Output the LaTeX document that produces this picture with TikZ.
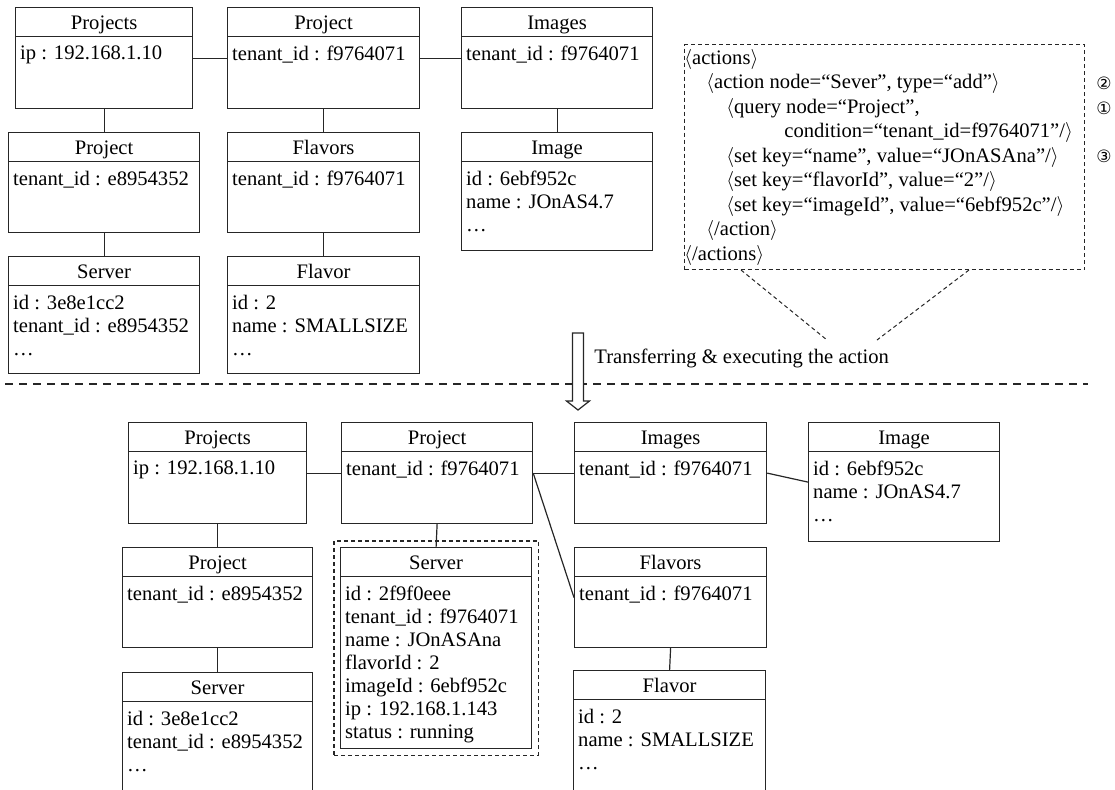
\documentclass[tikz,border=0pt]{standalone}
\usepackage{fontspec}
\setmainfont{Liberation Serif}
\newfontfamily\circfont{DejaVu Sans}
\usetikzlibrary{fit}

\newcommand{\entfont}{\fontsize{10.3}{11.5}\selectfont}

% one class box: [text options]{name}{x}{y}{width}{height}{title}{fields}
\newcommand{\entbox}[8][]{%
  \node[entity,anchor=north west,minimum width=#5*0.5pt,minimum height=#6*0.5pt] (#2) at (#3,#4) {};
  \draw[link] ([yshift=-14.75pt]#2.north west) -- ([yshift=-14.75pt]#2.north east);
  \node[entname,#1] (#2-t) at ([yshift=-11.3pt]#2.north) {#7};
  \node[entbody,#1] (#2-b) at ([yshift=-14.75pt]#2.north west) {#8};
}

\begin{document}
\begin{tikzpicture}[
  x=0.5pt,y=-0.5pt,
  entity/.style={draw=black!85,line width=0.6pt,inner sep=0pt},
  entname/.style={anchor=base,inner sep=0pt,font=\entfont},
  entbody/.style={anchor=north west,align=left,inner xsep=2.4pt,inner ysep=4.4pt,font=\entfont},
  link/.style={draw=black!85,line width=0.6pt},
  hilite/.style={draw=black!85,line width=0.6pt,dash pattern=on 2pt off 1.5pt,inner sep=3pt},
  dashbox/.style={draw=black!85,line width=0.6pt,dash pattern=on 2pt off 1.5pt,inner sep=0pt},
  callout/.style={black!85,line width=0.5pt,dash pattern=on 2pt off 1.5pt},
  sepline/.style={black!85,line width=0.7pt,dash pattern=on 4pt off 3pt},
  circnum/.style={inner sep=0pt,font=\circfont\fontsize{8.5}{10}\selectfont}
]
  \useasboundingbox (0,0) rectangle (1115,789);
  \clip (0,0) rectangle (1115,789);

  % before
  \entbox{prjs}{15}{7}{177}{101}{Projects}{ip : 192.168.1.10}
  \entbox{prj}{227}{7}{192}{101}{Project}{tenant\_id : f9764071}
  \entbox{imgs}{461}{7}{191}{101}{Images}{tenant\_id : f9764071}
  \entbox{prjE}{8}{132}{191}{100}{Project}{tenant\_id : e8954352}
  \entbox{flvs}{227}{132}{192}{100}{Flavors}{tenant\_id : f9764071}
  \entbox{img}{461}{132}{191}{118}{Image}{id : 6ebf952c\\name : JOnAS4.7\\…}
  \entbox{srvE}{8}{256}{191}{117}{Server}{id : 3e8e1cc2\\tenant\_id : e8954352\\…}
  \entbox{flv}{227}{256}{192}{117}{Flavor}{id : 2\\name : SMALLSIZE\\…}

  \draw[link] (prjs.east) -- (prj.west);
  \draw[link] (prj.east) -- (imgs.west);
  \draw[link] (prjs.south) -- (prjE.north);
  \draw[link] (prjE.south) -- (srvE.north);
  \draw[link] (prj.south) -- (flvs.north);
  \draw[link] (flvs.south) -- (flv.north);
  \draw[link] (imgs.south) -- (img.north);

  % the action
  \node[dashbox,anchor=north west,minimum width=400*0.5pt,minimum height=225*0.5pt] (acts) at (684,44) {};
  \node[anchor=north west,align=left,inner xsep=0pt,inner ysep=2.3pt,font=\fontsize{10.3}{12.25}\selectfont] (actstxt) at (684,44) {%
    $\langle$actions$\rangle$\\
    \hspace*{11pt}$\langle$action node=“Sever”, type=“add”$\rangle$\\
    \hspace*{21pt}$\langle$query node=“Project”,\\
    \hspace*{50pt}condition=“tenant\_id=f9764071”/$\rangle$\\
    \hspace*{21pt}$\langle$set key=“name”, value=“JOnASAna”/$\rangle$\\
    \hspace*{21pt}$\langle$set key=“flavorId”, value=“2”/$\rangle$\\
    \hspace*{21pt}$\langle$set key=“imageId”, value=“6ebf952c”/$\rangle$\\
    \hspace*{11pt}$\langle$/action$\rangle$\\
    $\langle$/actions$\rangle$};
  \node[circnum] (num2) at (1104,83) {②};
  \node[circnum] (num1) at (1104,108) {①};
  \node[circnum] (num3) at (1104,156) {③};

  \coordinate (cL1) at (741,270);
  \coordinate (cL2) at (827,340);
  \coordinate (cR1) at (969,270);
  \coordinate (cR2) at (877,340);
  \draw[callout] (cL1) -- (cL2);
  \draw[callout] (cR1) -- (cR2);

  \draw[sepline] (5,384) -- (1088,384);
  \draw[black!85,line width=0.6pt,fill=white] (572.5,333) -- (583.5,333) -- (583.5,401) -- (589.5,401)
    -- (578,410) -- (566.5,401) -- (572.5,401) -- cycle;
  \node[anchor=west,inner sep=0pt,font=\entfont] (xfer) at (594,358) {Transferring \& executing the action};

  % after
  \entbox{prjs2}{128}{422}{178}{101}{Projects}{ip : 192.168.1.10}
  \entbox{prj2}{341}{422}{191}{101}{Project}{tenant\_id : f9764071}
  \entbox{imgs2}{574}{422}{192}{101}{Images}{tenant\_id : f9764071}
  \entbox{img2}{808}{422}{191}{119}{Image}{id : 6ebf952c\\name : JOnAS4.7\\…}
  \entbox{prjE2}{122}{547}{190}{100}{Project}{tenant\_id : e8954352}
  \entbox{srv2}{340}{547}{191}{201}{Server}{id : 2f9f0eee\\tenant\_id : f9764071\\name : JOnASAna\\flavorId : 2\\imageId : 6ebf952c\\ip : 192.168.1.143\\status : running}
  \entbox{flvs2}{574}{547}{192}{100}{Flavors}{tenant\_id : f9764071}
  \entbox{srvE2}{122}{672}{190}{130}{Server}{id : 3e8e1cc2\\tenant\_id : e8954352\\…}
  \entbox{flv2}{573}{670}{192}{130}{Flavor}{id : 2\\name : SMALLSIZE\\…}
  \node[hilite,fit=(srv2)] (newsrv) {};

  \draw[link] (prjs2.east) -- (prj2.west);
  \draw[link] (prj2.east) -- (imgs2.west);
  \draw[link] (imgs2.east) -- (img2.west);
  \draw[link] (prj2.east) -- (flvs2.west);
  \draw[link] (prj2.south) -- (srv2.north);
  \draw[link] (prjs2.south) -- (prjE2.north);
  \draw[link] (prjE2.south) -- (srvE2.north);
  \draw[link] (flvs2.south) -- (flv2.north);
\end{tikzpicture}
\end{document}
